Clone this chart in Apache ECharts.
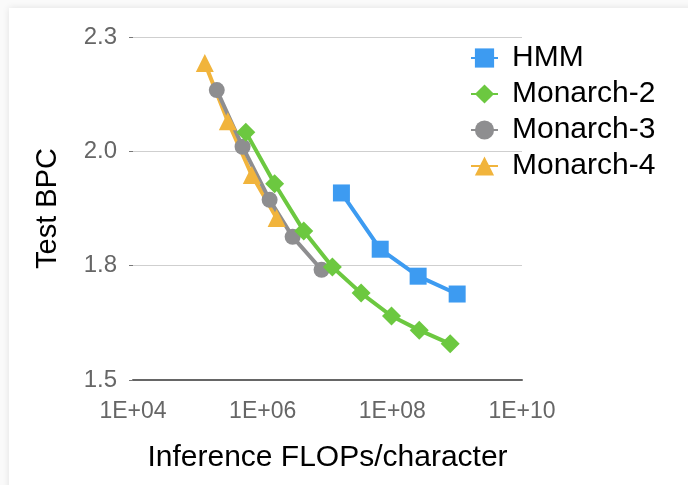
<!DOCTYPE html>
<html>
<head>
<meta charset="utf-8">
<script src="https://cdn.jsdelivr.net/npm/echarts@6/dist/echarts.min.js"></script>
<style>
  html, body { margin: 0; padding: 0; background: #fafafa; }
  #card { position: absolute; left: 9px; top: 8px; width: 700px; height: 500px; background: #fff;
          box-shadow: 0 0 7px rgba(0,0,0,0.10); }
  #main { position: absolute; left: 0; top: 0; width: 688px; height: 485px; }
</style>
</head>
<body>
<div id="card"></div>
<div id="main"></div>
<script>
// FLOPs per character (x) and test BPC (y)
var hmmX = [1.64e7, 6.5e7, 2.5e8, 1.0e9];
var hmmY = [1.909, 1.786, 1.727, 1.688];
var m2X = [5.5e5, 1.53e6, 4.3e6, 1.19e7, 3.3e7, 9.7e7, 2.6e8, 7.8e8];
var m2Y = [2.042, 1.929, 1.826, 1.747, 1.690, 1.640, 1.609, 1.579];
var m3X = [1.96e5, 4.9e5, 1.28e6, 2.9e6, 8.1e6];
var m3Y = [2.134, 2.010, 1.894, 1.813, 1.741];
var m4X = [1.28e5, 2.9e5, 6.8e5, 1.64e6];
var m4Y = [2.193, 2.066, 1.948, 1.854];

function pairs(xs, ys) {
  return xs.map(function (x, i) { return [x, ys[i]]; });
}

var myChart = echarts.init(document.getElementById("main"));
myChart.setOption({
  backgroundColor: "transparent",
  animation: false,
  textStyle: { fontFamily: "Liberation Sans, Arial, sans-serif" },
  grid: { left: 133, right: 166, top: 37, bottom: 105 },
  legend: {
    data: ["HMM", "Monarch-2", "Monarch-3", "Monarch-4"],
    orient: "vertical",
    left: 465,
    top: 38,
    itemWidth: 27,
    itemHeight: 24,
    itemGap: 6,
    textStyle: { fontSize: 30, color: "#000", padding: [0, 0, 0, 9] }
  },
  xAxis: {
    type: "log",
    logBase: 10,
    min: 1e4,
    max: 1e10,
    interval: 2,
    name: "Inference FLOPs/character",
    nameLocation: "middle",
    nameGap: 63,
    nameTextStyle: { fontSize: 30, color: "#000" },
    axisLine: { lineStyle: { color: "#666", width: 2 } },
    axisTick: { show: false },
    splitLine: { show: false },
    minorTick: { show: false },
    axisLabel: {
      fontSize: 23,
      color: "#666",
      margin: 20,
      formatter: function (v) {
        var e = Math.round(Math.log10(v));
        return "1E+" + (e < 10 ? "0" + e : e);
      }
    }
  },
  yAxis: {
    type: "value",
    min: 1.5,
    max: 2.25,
    interval: 0.25,
    name: "Test BPC",
    nameLocation: "middle",
    nameGap: 71,
    nameTextStyle: { fontSize: 29, color: "#000" },
    axisLine: { show: false },
    axisTick: { show: true, length: 4, lineStyle: { color: "#777" } },
    splitLine: { lineStyle: { color: "#cfcfcf", width: 1 } },
    axisLabel: {
      fontSize: 24,
      color: "#666",
      margin: 16,
      formatter: function (v) { return v.toFixed(1); }
    }
  },
  series: [
    {
      name: "Monarch-4",
      type: "line",
      data: pairs(m4X, m4Y),
      symbol: "triangle",
      symbolSize: 18,
      lineStyle: { width: 4 },
      color: "#f1b43c"
    },
    {
      name: "Monarch-3",
      type: "line",
      data: pairs(m3X, m3Y),
      symbol: "circle",
      symbolSize: 16,
      lineStyle: { width: 4 },
      color: "#8e8e90"
    },
    {
      name: "Monarch-2",
      type: "line",
      data: pairs(m2X, m2Y),
      symbol: "diamond",
      symbolSize: 19,
      lineStyle: { width: 4 },
      color: "#6cc840"
    },
    {
      name: "HMM",
      type: "line",
      data: pairs(hmmX, hmmY),
      symbol: "rect",
      symbolSize: 17,
      lineStyle: { width: 4 },
      color: "#3d9bf1"
    }
  ]
});
</script>
</body>
</html>
